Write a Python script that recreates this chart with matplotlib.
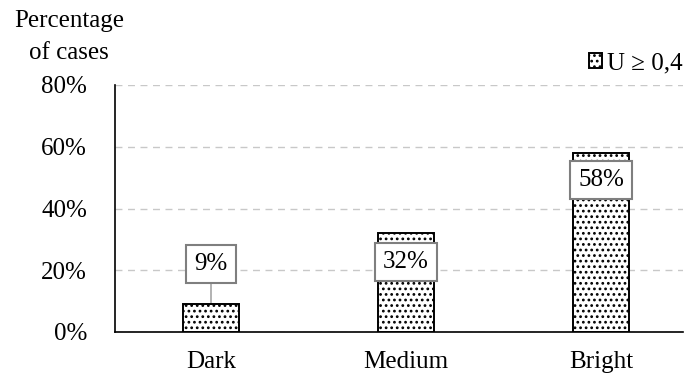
import matplotlib
matplotlib.use("Agg")
import matplotlib.pyplot as plt
from matplotlib.ticker import PercentFormatter

plt.rcParams['font.family'] = ['Liberation Serif', 'DejaVu Serif']
plt.rcParams['hatch.linewidth'] = 1.2

categories = ["Dark", "Medium", "Bright"]
values = [9, 32, 58]
series_name = "U \u2265 0,4"
label_offsets = [40, -29, -27]  # label centre relative to bar top, in px

fig = plt.figure(figsize=(6.89, 3.78), dpi=100)
ax = fig.add_axes([115/689, 1-332/378, (683-115)/689, (332-85)/378])

x = list(range(len(categories)))
bars = ax.bar(x, values, width=0.287, facecolor="white", edgecolor="black",
              linewidth=1.4, hatch="...", zorder=3, label=series_name)

ax.set_ylim(0, 80)
ax.set_xlim(-0.492, 2.42)
ax.set_yticks([0, 20, 40, 60, 80])
ax.yaxis.set_major_formatter(PercentFormatter(decimals=0))
ax.set_xticks(x)
ax.set_xticklabels(categories)
ax.tick_params(axis="both", length=0, labelsize=18, colors="black")
ax.tick_params(axis="y", pad=20)
ax.tick_params(axis="x", pad=14)
ax.grid(axis="y", color="#c8c8c8", linestyle=(0, (5, 4)), linewidth=1, zorder=0)
for s in ["top", "right"]:
    ax.spines[s].set_visible(False)
for s in ["left", "bottom"]:
    ax.spines[s].set_color("black")
    ax.spines[s].set_linewidth(1.2)

px_per_unit = (332 - 85) / 80
for xi, v, off in zip(x, values, label_offsets):
    y_lab = v + off / px_per_unit
    if off > 0:
        ax.plot([xi, xi], [v, y_lab], color="#a6a6a6", linewidth=1.2, zorder=2)
    ax.text(xi, y_lab, f"{v}%", ha="center", va="center", fontsize=18, zorder=5,
            bbox=dict(boxstyle="square,pad=0.32", facecolor="white",
                      edgecolor="#7f7f7f", linewidth=1.5))

fig.text(69/689, 1-21/378, "Percentage", ha="center", va="center", fontsize=18)
fig.text(69/689, 1-53/378, "of cases", ha="center", va="center", fontsize=18)

leg = ax.legend(loc="center right", bbox_to_anchor=(1.0, (332-63)/(332-85)),
                frameon=False, fontsize=18, handlelength=0.55, handleheight=0.55,
                handletextpad=0.2, borderaxespad=0.0, borderpad=0.0)

fig.savefig("out.png", dpi=100)
